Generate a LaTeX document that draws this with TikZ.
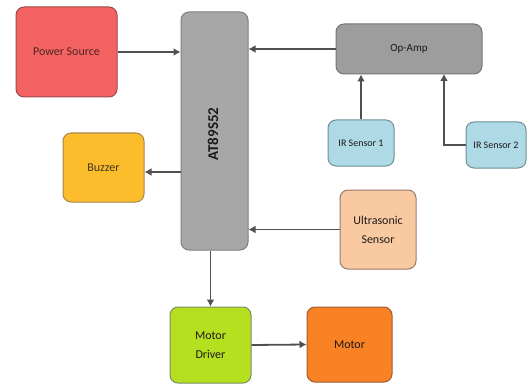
\documentclass[tikz,border=0pt]{standalone}
\usepackage{fontspec}
\setmainfont{Carlito}
\usetikzlibrary{arrows.meta}
\definecolor{psfill}{HTML}{F46262}\definecolor{psdraw}{HTML}{9A4A4A}
\definecolor{atfill}{HTML}{A7A7A7}\definecolor{atdraw}{HTML}{7E7E7E}
\definecolor{opfill}{HTML}{9D9D9D}\definecolor{opdraw}{HTML}{747474}
\definecolor{irfill}{HTML}{AEDAE6}\definecolor{irdraw}{HTML}{6F8E98}
\definecolor{bzfill}{HTML}{FBBD2C}\definecolor{bzdraw}{HTML}{A8884A}
\definecolor{usfill}{HTML}{F9CAA2}\definecolor{usdraw}{HTML}{98796A}
\definecolor{mdfill}{HTML}{B5E01F}\definecolor{mddraw}{HTML}{7D8A62}
\definecolor{mofill}{HTML}{F98224}\definecolor{modraw}{HTML}{A05A35}
\definecolor{linec}{HTML}{505050}
\definecolor{txt}{HTML}{1E1818}
\tikzset{
  blk/.style={rectangle, rounded corners=8pt, line width=1pt, inner sep=0pt, align=center, text=txt,
    font=\fontsize{12}{19}\selectfont},
  arr/.style={draw=linec, line width=1.8pt, -{Latex[length=7pt,width=8pt]}}
}
\begin{document}
\begin{tikzpicture}[x=1pt,y=-1pt]
\useasboundingbox (0,0) rectangle (527,385);
\node[blk, fill=psfill, draw=psdraw, minimum width=101pt, minimum height=90pt, text=psdraw!50!black] (ps) at (66.5,52) {Power Source};
\node[blk, fill=atfill, draw=atdraw, minimum width=67pt, minimum height=238pt] (at) at (214.5,131) {};
\node[rotate=90, font=\fontsize{15}{18}\selectfont\bfseries, text=txt] (atl) at (213,134) {AT89S52};
\node[blk, fill=opfill, draw=opdraw, minimum width=146pt, minimum height=50pt, font=\fontsize{11}{13}\selectfont] (op) at (409,49) {Op-Amp};
\node[blk, fill=irfill, draw=irdraw, minimum width=66pt, minimum height=46pt, font=\fontsize{10}{12}\selectfont] (ir1) at (361,143) {IR Sensor 1};
\node[blk, fill=irfill, draw=irdraw, minimum width=60pt, minimum height=46pt, font=\fontsize{10}{12}\selectfont] (ir2) at (496,145) {IR Sensor 2};
\node[blk, fill=bzfill, draw=bzdraw, minimum width=81pt, minimum height=69pt, text=bzdraw!40!black] (bz) at (103.5,167.5) {Buzzer};
\node[blk, fill=usfill, draw=usdraw, minimum width=76pt, minimum height=79pt] (us) at (378,229.5) {Ultrasonic\\Sensor};
\node[blk, fill=mdfill, draw=mddraw, minimum width=81pt, minimum height=76pt] (md) at (210.5,345) {Motor\\Driver};
\node[blk, fill=mofill, draw=modraw, minimum width=85pt, minimum height=75pt] (mo) at (349.5,344.5) {Motor};
\coordinate (j2) at (444,74);
\draw[arr] (ps.east) -- (ps.east -| at.west);
\draw[arr] (op.west) -- (op.west -| at.east);
\draw[arr] (ir1.north) -- (ir1.north |- op.south);
\draw[arr] (ir2.west) -| (j2);
\draw[arr] (at.west |- 0,172) -- (bz.east |- 0,172);
\draw[arr] (us.west) -- (us.west -| at.east);
\draw[arr] (md.north |- at.south) -- (md.north);
\draw[arr] (md.east) -- (mo.west);
\end{tikzpicture}
\end{document}
